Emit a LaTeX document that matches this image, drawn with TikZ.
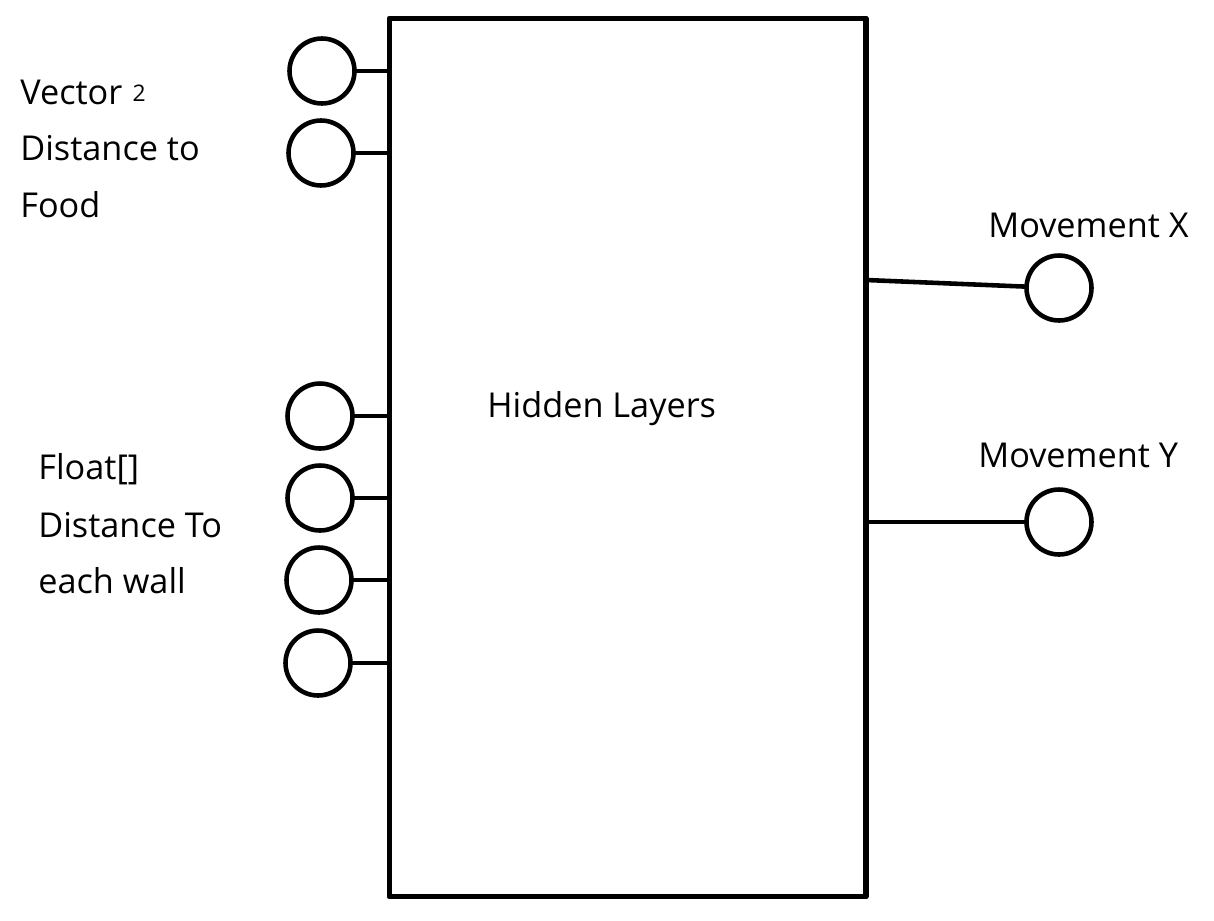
\documentclass[tikz,border=0pt]{standalone}
\usepackage{fontspec}
\setmainfont{Open Sans}
\begin{document}
\begin{tikzpicture}[x=0.02cm,y=-0.02cm,line join=round,line cap=round,
		neuron/.style={draw,circle,line width=2.6pt,minimum size=1.3cm,inner sep=0pt},
		wire/.style={line width=2.6pt},
		lbl/.style={anchor=base west,inner sep=0pt,font=\fontsize{19.5}{23}\selectfont}]
	\useasboundingbox (0,0) rectangle (1214,920);
	\node[draw,line width=2.9pt,minimum width=9.54cm,minimum height=17.58cm,inner sep=0pt] (box) at (627.5,457.5) {};
	\node[lbl] (hidden) at (487,417) {Hidden Layers};
	% inputs
	\foreach \n/\x/\y in {1/322/71,2/321/153,3/320/416,4/320/498,5/319/580,6/318/663}{
		\node[neuron] (in\n) at (\x,\y) {};
		\draw[wire] (in\n) -- (in\n -| box.west);
	}
	\node[lbl] (vec) at (20,104) {Vector\hspace{0.3em}\raisebox{0.06cm}{\fontsize{13}{15}\selectfont 2}};
	\node[lbl] (food1) at (20,160) {Distance to};
	\node[lbl] (food2) at (20,217) {Food};
	\node[lbl] (flt) at (38,479) {Float[]};
	\node[lbl] (wall1) at (38,537) {Distance To};
	\node[lbl] (wall2) at (38,593) {each wall};
	% outputs
	\coordinate (bx) at (866,280);
	\coordinate (by) at (866,522);
	\node[neuron] (outx) at (1059,288) {};
	\node[neuron] (outy) at (1059,522) {};
	\draw[wire] (bx) -- (outx);
	\draw[wire] (by) -- (outy);
	\node[lbl] (mx) at (988,237) {Movement X};
	\node[lbl] (my) at (978,467) {Movement Y};
\end{tikzpicture}
\end{document}
